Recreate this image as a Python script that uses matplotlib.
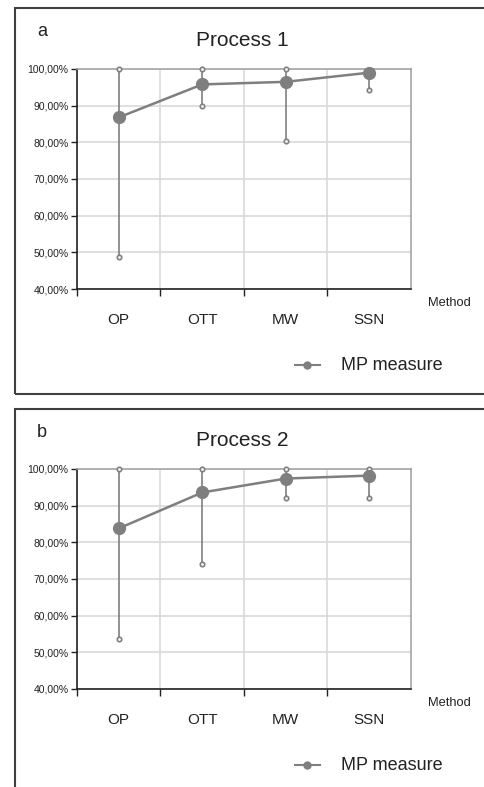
import numpy as np
import matplotlib
matplotlib.use('Agg')
import matplotlib.pyplot as plt
from matplotlib.ticker import FuncFormatter
from matplotlib.patches import Rectangle

plt.rcParams['font.family'] = ['Liberation Sans', 'DejaVu Sans']

# data (percent)
methods = ['OP', 'OTT', 'MW', 'SSN']

p1_mean = [86.8, 95.8, 96.5, 99.0]
p1_min = [48.7, 90.0, 80.5, 94.2]
p1_max = [100.0, 100.0, 100.0, 99.6]

p2_mean = [83.8, 93.6, 97.4, 98.2]
p2_min = [53.6, 74.0, 92.0, 92.0]
p2_max = [100.0, 100.0, 100.0, 100.0]

LINE = '#7f7f7f'
GRID = '#d9d9d9'
BORDER = '#a6a6a6'

W, H = 485, 787
fig = plt.figure(figsize=(W / 100, H / 100), dpi=100)


def fx(px):
    return px / W


def fy(py):
    return 1 - py / H


def pct(v, pos):
    return f'{v:.2f}%'.replace('.', ',')


def draw_panel(top_px, letter, title, mean, lo, hi, box):
    ax = fig.add_axes([fx(77), fy(top_px + 220), fx(334), 220 / H])
    x = np.arange(len(methods))

    ax.vlines(x, lo, hi, color=LINE, lw=1.2, zorder=3)
    ax.plot(x, lo, 'o', ms=3.2, mfc='white', mec=LINE, mew=1.2, zorder=4, clip_on=False)
    ax.plot(x, hi, 'o', ms=3.2, mfc='white', mec=LINE, mew=1.2, zorder=4, clip_on=False)
    ax.plot(x, mean, '-', color=LINE, lw=1.8, zorder=5)
    ax.plot(x, mean, 'o', color=LINE, ms=8.5, zorder=6, clip_on=False)

    ax.set_xlim(-0.5, 3.5)
    ax.set_ylim(40, 100)
    ax.set_yticks(np.arange(40, 101, 10))
    ax.yaxis.set_major_formatter(FuncFormatter(pct))
    ax.set_xticks(x)
    ax.set_xticklabels(methods)
    ax.set_xticks([-0.5, 0.5, 1.5, 2.5], minor=True)

    ax.tick_params(axis='y', length=4, width=1, pad=2, labelsize=7.5, colors='#222222')
    ax.tick_params(axis='x', which='major', length=0, pad=17, labelsize=11, labelcolor='#222222')
    ax.tick_params(axis='x', which='minor', length=5, width=1, color='#222222')

    ax.grid(axis='y', which='major', color=GRID, lw=1.2)
    ax.grid(axis='x', which='minor', color=GRID, lw=1.2)
    ax.set_axisbelow(True)

    ax.spines['left'].set_color('#222222')
    ax.spines['bottom'].set_color('#222222')
    ax.spines['left'].set_linewidth(1.2)
    ax.spines['bottom'].set_linewidth(1.2)
    ax.spines['top'].set_color(BORDER)
    ax.spines['right'].set_color(BORDER)
    ax.spines['top'].set_linewidth(1.2)
    ax.spines['right'].set_linewidth(1.2)

    fig.text(fx(242), fy(top_px - 28), title, fontsize=15, ha='center', va='center', color='#222222')
    fig.text(fx(37), fy(top_px - 37), letter, fontsize=13, ha='left', va='center', color='#222222')
    fig.text(fx(449), fy(top_px + 234), 'Method', fontsize=9.3, ha='center', va='center', color='#222222')

    # legend
    fig.lines.append(plt.Line2D([fx(295), fx(320)], [fy(top_px + 296)] * 2, color=LINE, lw=1.5,
                                marker='o', markevery=[0], ms=0, transform=fig.transFigure))
    fig.lines.append(plt.Line2D([fx(307.5)], [fy(top_px + 296)], color=LINE, marker='o', ms=5,
                                transform=fig.transFigure))
    fig.text(fx(341), fy(top_px + 296), 'MP measure', fontsize=13, ha='left', va='center', color='#222222')

    fig.patches.append(Rectangle((fx(box[0]), fy(box[3])), fx(box[2] - box[0]), (box[3] - box[1]) / H,
                                 transform=fig.transFigure, fill=False, ec='#404040', lw=1.5))
    return ax


draw_panel(69, 'a', 'Process 1', p1_mean, p1_min, p1_max, (15, 8, 495, 394))
draw_panel(469, 'b', 'Process 2', p2_mean, p2_min, p2_max, (15, 409, 495, 800))

fig.savefig('out.png', dpi=100)
